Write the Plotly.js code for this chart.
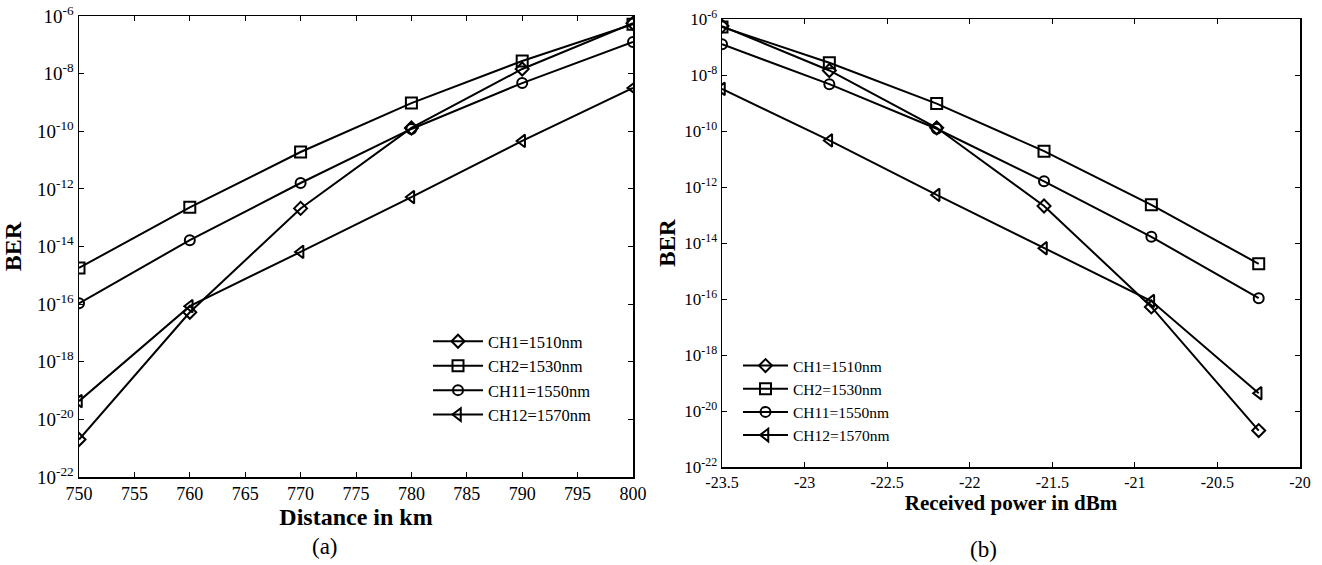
<!DOCTYPE html>
<html>
<head>
<meta charset="utf-8">
<script src="https://cdn.plot.ly/plotly-3.0.1.min.js"></script>
<style>html,body{margin:0;padding:0;background:#fff;}#chart{width:1322px;height:565px;}</style>
</head>
<body>
<div id="chart"></div>
<script>
// ---- data ----
const distanceKm = [750, 760, 770, 780, 790, 800];
const powerDbm = [-23.5, -22.85, -22.2, -21.55, -20.9, -20.25];

const seriesNames = ['CH1=1510nm', 'CH2=1530nm', 'CH11=1550nm', 'CH12=1570nm'];

// BER vs distance (panel a)
const berDistCH1  = [2.0e-21, 5.2e-17, 2.1e-13, 1.3e-10, 1.45e-8, 5.6e-7];
const berDistCH2  = [1.8e-15, 2.3e-13, 1.9e-11, 9.5e-10, 2.75e-8, 5.2e-7];
const berDistCH11 = [1.07e-16, 1.66e-14, 1.6e-12, 1.2e-10, 4.7e-9, 1.26e-7];
const berDistCH12 = [4.3e-20, 8.5e-17, 6.5e-15, 5.2e-13, 4.6e-11, 3.2e-9];

// BER vs received power (panel b)
const berPowCH1  = [5.6e-7, 1.45e-8, 1.3e-10, 2.1e-13, 5.2e-17, 2.0e-21];
const berPowCH2  = [5.2e-7, 2.75e-8, 9.5e-10, 1.9e-11, 2.3e-13, 1.8e-15];
const berPowCH11 = [1.26e-7, 4.7e-9, 1.2e-10, 1.6e-12, 1.66e-14, 1.07e-16];
const berPowCH12 = [3.2e-9, 4.6e-11, 5.2e-13, 6.5e-15, 8.5e-17, 4.3e-20];

const yTickVals = [1e-22, 1e-20, 1e-18, 1e-16, 1e-14, 1e-12, 1e-10, 1e-8, 1e-6];
const yTickText = ['10<sup>-22</sup>', '10<sup>-20</sup>', '10<sup>-18</sup>', '10<sup>-16</sup>',
                   '10<sup>-14</sup>', '10<sup>-12</sup>', '10<sup>-10</sup>', '10<sup>-8</sup>', '10<sup>-6</sup>'];
const xTickValsA = [750, 755, 760, 765, 770, 775, 780, 785, 790, 795, 800];
const xTickValsB = [-23.5, -23, -22.5, -22, -21.5, -21, -20.5, -20];
const xTickTextB = ['-23.5', '-23', '-22.5', '-22', '-21.5', '-21', '-20.5', '-20'];

// ---- styling ----
const FONT = '"Liberation Serif", "Times New Roman", serif';
const symbols = ['diamond-open', 'square-open', 'circle-open', 'triangle-left-open'];
const msizes = [10, 11, 10, 11];

const distData = [berDistCH1, berDistCH2, berDistCH11, berDistCH12];
const powData = [berPowCH1, berPowCH2, berPowCH11, berPowCH12];

const traces = [];
distData.forEach((ys, i) => {
  traces.push({
    x: distanceKm, y: ys, name: seriesNames[i], type: 'scatter', mode: 'lines+markers',
    xaxis: 'x', yaxis: 'y', legend: 'legend',
    line: {color: '#000', width: 2},
    marker: {symbol: symbols[i], size: msizes[i], color: '#000', line: {color: '#000', width: 2}}
  });
});
powData.forEach((ys, i) => {
  traces.push({
    x: powerDbm, y: ys, name: seriesNames[i], type: 'scatter', mode: 'lines+markers',
    xaxis: 'x2', yaxis: 'y2', legend: 'legend2',
    line: {color: '#000', width: 2},
    marker: {symbol: symbols[i], size: msizes[i], color: '#000', line: {color: '#000', width: 2}}
  });
});

function axisCommon() {
  return {
    showline: true, linecolor: '#000', linewidth: 1.5, mirror: 'ticks',
    ticks: 'inside', ticklen: 5, tickwidth: 1, tickcolor: '#000',
    showgrid: false, zeroline: false, automargin: false
  };
}

const layout = {
  width: 1322, height: 565,
  margin: {l: 0, r: 0, t: 0, b: 0},
  paper_bgcolor: '#fff', plot_bgcolor: '#fff',
  font: {family: FONT, color: '#000'},
  showlegend: true,
  xaxis: Object.assign(axisCommon(), {
    domain: [79/1322, 633/1322], anchor: 'y', range: [750, 800],
    tickvals: xTickValsA, tickfont: {size: 18, family: FONT},
    title: {text: '<b>Distance in km</b>', font: {size: 24, family: FONT}, standoff: 2}
  }),
  yaxis: Object.assign(axisCommon(), {
    domain: [1 - 477/565, 1 - 16/565], anchor: 'x', type: 'log', range: [-22, -6],
    tickvals: yTickVals, ticktext: yTickText, tickfont: {size: 19, family: FONT},
    title: {text: '<b>BER</b>', font: {size: 24, family: FONT}, standoff: 8}
  }),
  xaxis2: Object.assign(axisCommon(), {
    domain: [722/1322, 1300/1322], anchor: 'y2', range: [-23.5, -20],
    tickvals: xTickValsB, ticktext: xTickTextB, tickfont: {size: 16, family: FONT},
    title: {text: '<b>Received power in dBm</b>', font: {size: 21, family: FONT}, standoff: 4}
  }),
  yaxis2: Object.assign(axisCommon(), {
    domain: [1 - 467/565, 1 - 19/565], anchor: 'x2', type: 'log', range: [-22, -6],
    tickvals: yTickVals, ticktext: yTickText, tickfont: {size: 17, family: FONT},
    title: {text: '<b>BER</b>', font: {size: 23, family: FONT}, standoff: 2}
  }),
  legend: {
    x: 428/1322, y: 1 - 324/565, xanchor: 'left', yanchor: 'top',
    bgcolor: 'rgba(0,0,0,0)', borderwidth: 0, itemwidth: 50,
    font: {size: 16.5, family: FONT}, tracegroupgap: 0
  },
  legend2: {
    x: 738/1322, y: 1 - 349/565, xanchor: 'left', yanchor: 'top',
    bgcolor: 'rgba(0,0,0,0)', borderwidth: 0, itemwidth: 45,
    font: {size: 15.5, family: FONT}, tracegroupgap: 0
  },
  annotations: [
    {text: '(a)', x: 325/1322, y: 1 - 546/565, xref: 'paper', yref: 'paper',
     xanchor: 'center', yanchor: 'middle', showarrow: false, font: {size: 23, family: FONT}},
    {text: '(b)', x: 983/1322, y: 1 - 549/565, xref: 'paper', yref: 'paper',
     xanchor: 'center', yanchor: 'middle', showarrow: false, font: {size: 23, family: FONT}}
  ]
};

Plotly.newPlot('chart', traces, layout, {displayModeBar: false, staticPlot: true});
</script>
</body>
</html>
